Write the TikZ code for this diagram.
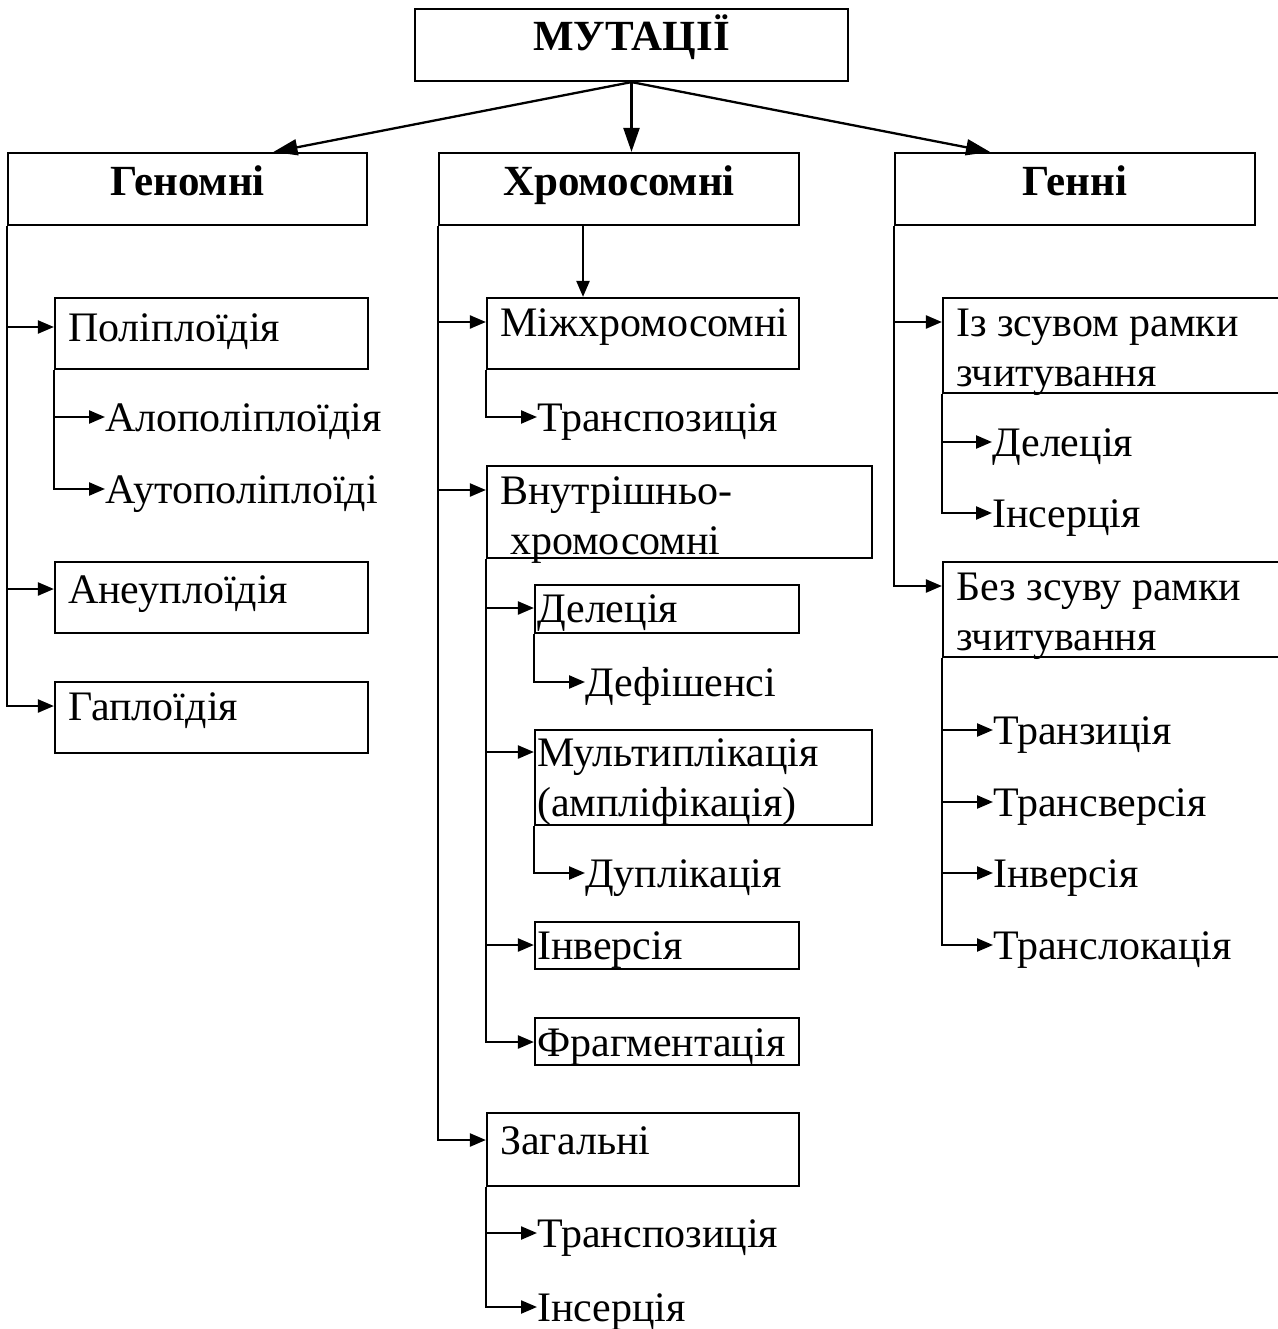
\documentclass[tikz,border=0pt]{standalone}
\usepackage{fontspec}
\setmainfont{Liberation Serif}
\usetikzlibrary{arrows.meta,fit,calc}
\begin{document}
\begin{tikzpicture}[x=1pt,y=-1pt,
  every node/.style={font=\fontsize{42}{50}\selectfont},
  boxst/.style={draw, line width=2.2pt, inner sep=0pt},
  lbl/.style={anchor=west, inner sep=0pt, text height=36pt, text depth=8pt},
  hdr/.style={font=\fontsize{43}{50}\selectfont\bfseries, inner sep=0pt, text height=28pt, text depth=0pt},
  ln/.style={line width=2.3pt},
  arr/.style={ln, -{Triangle[length=16pt,width=13pt]}},
  bigarr/.style={ln, -{Triangle[length=24pt,width=16pt]}}
]
\useasboundingbox (0,0) rectangle (1277,1329);

% top level
\node[boxst, fit={(415,9) (848,81)}] (mut) {};
\node[hdr] (mutT) at ($(mut.center)+(0,-8)$) {МУТАЦІЇ};
\node[boxst, fit={(8,153) (367,225)}] (gen) {};
\node[hdr] (genT) at ($(gen.center)+(0,-7.5)$) {Геномні};
\node[boxst, fit={(439,153) (799,225)}] (chr) {};
\node[hdr] (chrT) at ($(chr.center)+(0,-7.5)$) {Хромосомні};
\node[boxst, fit={(895,153) (1255,225)}] (gne) {};
\node[hdr] (gneT) at ($(gne.center)+(0,-7.5)$) {Генні};

\draw[bigarr] (mut.south) -- ([xshift=86pt]gen.north);
\draw[bigarr] (mut.south) -- (mut.south |- chr.north);
\draw[bigarr] (mut.south) -- ([xshift=-85pt]gne.north);

% left column
\node[boxst, fit={(55,298) (368,369)}] (pol) {};
\node[lbl] (polT) at (68,327) {Поліплоїдія};
\draw[arr] (gen.south west) |- (pol.west |- polT.west);
\node[lbl] (aloT) at (105,417) {Алополіплоїдія};
\node[lbl] (autT) at (105,489) {Аутополіплоїді};
\draw[arr] (pol.south west) |- (aloT.west);
\draw[arr] (pol.south west) |- (autT.west);
\node[boxst, fit={(55,562) (368,633)}] (ane) {};
\node[lbl] (aneT) at (68,589) {Анеуплоїдія};
\draw[arr] (gen.south west) |- (ane.west |- aneT.west);
\node[boxst, fit={(55,682) (368,753)}] (hap) {};
\node[lbl] (hapT) at (68,706) {Гаплоїдія};
\draw[arr] (gen.south west) |- (hap.west |- hapT.west);

% middle column
\node[boxst, fit={(487,298) (799,369)}] (mih) {};
\node[lbl] (mihT) at (500,322) {Міжхромосомні};
\draw[arr] ([xshift=-36pt]chr.south) -- ([xshift=-36pt]chr.south |- mih.north);
\draw[arr] (chr.south west) |- (mih.west |- mihT.west);
\node[lbl] (tr1T) at (537,417) {Транспозиція};
\draw[arr] (mih.south west) |- (tr1T.west);

\node[boxst, fit={(487,466) (872,558)}] (vnu) {};
\node[lbl] (vnuT) at (500,490) {Внутрішньо-};
\node[lbl] (vnuT2) at (510,540) {хромосомні};
\draw[arr] (chr.south west) |- (vnu.west |- vnuT.west);

\node[boxst, fit={(535,585) (799,633)}] (del) {};
\node[lbl] (delT) at (537,608) {Делеція};
\draw[arr] (vnu.south west) |- (del.west |- delT.west);
\node[lbl] (defT) at (585,682) {Дефішенсі};
\draw[arr] (del.south west) |- (defT.west);

\node[boxst, fit={(535,730) (872,825)}] (mul) {};
\node[lbl] (mulT) at (537,752) {Мультиплікація};
\node[lbl] (mulT2) at (537,802) {(ампліфікація)};
\draw[arr] (vnu.south west) |- (mul.west |- mulT.west);
\node[lbl] (dupT) at (585,873) {Дуплікація};
\draw[arr] (mul.south west) |- (dupT.west);

\node[boxst, fit={(535,922) (799,969)}] (inv) {};
\node[lbl] (invT) at (537,945) {Інверсія};
\draw[arr] (vnu.south west) |- (inv.west |- invT.west);

\node[boxst, fit={(535,1018) (799,1065)}] (fra) {};
\node[lbl] (fraT) at (537,1042) {Фрагментація};
\draw[arr] (vnu.south west) |- (fra.west |- fraT.west);

\node[boxst, fit={(487,1113) (799,1186)}] (zag) {};
\node[lbl] (zagT) at (500,1140) {Загальні};
\draw[arr] (chr.south west) |- (zag.west |- zagT.west);
\node[lbl] (tr2T) at (537,1233) {Транспозиція};
\node[lbl] (insT) at (537,1307) {Інсерція};
\draw[arr] (zag.south west) |- (tr2T.west);
\draw[arr] (zag.south west) |- (insT.west);

% right column
\node[boxst, fit={(943,298) (1284,393)}] (izz) {};
\node[lbl] (izzT) at (956,322) {Із зсувом рамки};
\node[lbl] (izzT2) at (956,372) {зчитування};
\draw[arr] (gne.south west) |- (izz.west |- izzT.west);
\node[lbl] (del2T) at (992,442) {Делеція};
\node[lbl] (ins2T) at (992,513) {Інсерція};
\draw[arr] (izz.south west) |- (del2T.west);
\draw[arr] (izz.south west) |- (ins2T.west);

\node[boxst, fit={(943,562) (1284,657)}] (bez) {};
\node[lbl] (bezT) at (956,586) {Без зсуву рамки};
\node[lbl] (bezT2) at (956,636) {зчитування};
\draw[arr] (gne.south west) |- (bez.west |- bezT.west);
\node[lbl] (tznT) at (993,730) {Транзиція};
\node[lbl] (tsvT) at (993,802) {Трансверсія};
\node[lbl] (in2T) at (993,873) {Інверсія};
\node[lbl] (tslT) at (993,945) {Транслокація};
\draw[arr] (bez.south west) |- (tznT.west);
\draw[arr] (bez.south west) |- (tsvT.west);
\draw[arr] (bez.south west) |- (in2T.west);
\draw[arr] (bez.south west) |- (tslT.west);
\end{tikzpicture}
\end{document}
